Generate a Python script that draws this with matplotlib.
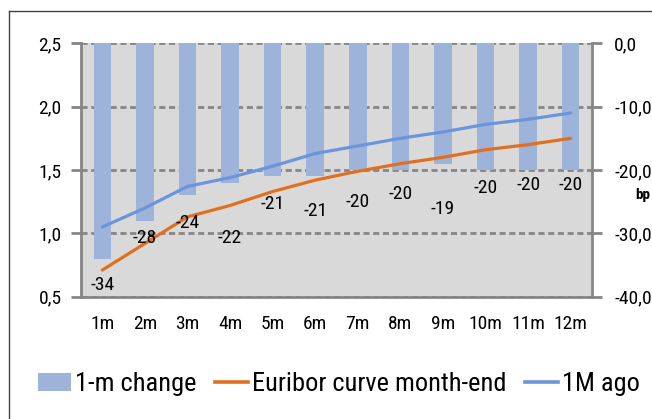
import matplotlib
matplotlib.use("Agg")
import matplotlib.pyplot as plt
from matplotlib import font_manager
from matplotlib.patches import Patch
from matplotlib.lines import Line2D

# ---- data -------------------------------------------------------------
tenors = ["1m", "2m", "3m", "4m", "5m", "6m", "7m", "8m", "9m", "10m", "11m", "12m"]
euribor_month_end = [0.71, 0.92, 1.13, 1.22, 1.33, 1.42, 1.49, 1.55, 1.60, 1.66, 1.70, 1.75]
euribor_1m_ago = [1.05, 1.20, 1.37, 1.44, 1.53, 1.63, 1.69, 1.75, 1.80, 1.86, 1.90, 1.95]
change_bp = [-34, -28, -24, -22, -21, -21, -20, -20, -19, -20, -20, -20]
# vertical placement of the value labels (bp scale)
label_y_bp = [-38.2, -30.8, -28.4, -30.8, -25.3, -26.4, -25.0, -23.8, -26.2, -22.9, -22.4, -22.3]

left_ticks = [0.5, 1.0, 1.5, 2.0, 2.5]
right_ticks = [0, -10, -20, -30, -40]

# ---- fonts ------------------------------------------------------------
available = {f.name for f in font_manager.fontManager.ttflist}
font = "Liberation Sans"
for cand in ["Liberation Sans Narrow", "DejaVu Sans Condensed", "Roboto Condensed",
             "Open Sans Condensed", "Liberation Sans"]:
    if cand in available:
        font = cand
        break
plt.rcParams["font.family"] = [font, "DejaVu Sans"]

# ---- colours ----------------------------------------------------------
bg = "#D9D9D9"
bar_c = "#9DB3DA"
orange = "#E07020"
blue = "#6A95DC"
grid_c = "#868686"

W, H = 652, 419
fig = plt.figure(figsize=(W / 100, H / 100), dpi=100)
fig.patch.set_facecolor("white")

# outer chart frame (top and left edges)
fig.add_artist(Line2D([9 / W, 1.0], [1 - 11 / H, 1 - 11 / H], color="#404040", lw=1.0,
                      transform=fig.transFigure))
fig.add_artist(Line2D([9 / W, 9 / W], [0.0, 1 - 11 / H], color="#404040", lw=1.0,
                      transform=fig.transFigure))

x0, x1 = 81 / W, 592 / W
y_top, y_bot = 1 - 43.3 / H, 1 - 296.7 / H
ax2 = fig.add_axes([x0, y_bot, x1 - x0, y_top - y_bot])
ax = ax2.twinx()
ax.set_zorder(ax2.get_zorder() + 1)
ax.patch.set_visible(False)
ax2.set_facecolor(bg)

xs = list(range(len(tenors)))

# bars on the bp scale
ax2.bar(xs, change_bp, width=0.41, color=bar_c, zorder=2)
ax2.set_ylim(-40, 0)
ax2.set_xlim(-0.5, len(tenors) - 0.5)
ax2.set_yticks(right_ticks)
ax2.set_yticklabels([f"{v:.1f}".replace(".", ",") for v in right_ticks])
ax2.yaxis.tick_right()
ax2.yaxis.set_label_position("right")
ax2.grid(axis="y", color=grid_c, lw=2.0, ls=(0, (2.2, 1.3)), zorder=1)
ax2.set_axisbelow(True)

# rate curves on the % scale (drawn on the left axis)
ax.plot(xs, euribor_month_end, color=orange, lw=2.3, solid_capstyle="round", zorder=3)
ax.plot(xs, euribor_1m_ago, color=blue, lw=2.3, solid_capstyle="round", zorder=3)
ax.set_ylim(0.5, 2.5)
ax.set_yticks(left_ticks)
ax.set_yticklabels([f"{v:.1f}".replace(".", ",") for v in left_ticks])
ax.yaxis.tick_left()

# value labels for the monthly change
for x, v, ly in zip(xs, change_bp, label_y_bp):
    ax.text(x, 0.5 + (ly + 40) / 40 * 2.0, f"{v}", ha="center", va="center",
            fontsize=14, color="black", zorder=5)

# category axis
ax2.set_xticks([i - 0.5 for i in range(len(tenors) + 1)], minor=False)
ax2.set_xticklabels([])
ax2.set_xticks(xs, minor=True)
ax2.set_xticklabels(tenors, minor=True)
ax2.tick_params(axis="x", which="major", direction="out", length=7, width=2, color=grid_c)
ax2.tick_params(axis="x", which="minor", length=0, pad=13, labelsize=14)
ax.set_xticks([])

ax2.tick_params(axis="y", direction="out", length=7, width=2, color=grid_c,
                labelsize=14, pad=9)
ax.tick_params(axis="y", direction="out", length=7, width=2, color=grid_c,
               labelsize=14, pad=7)

for a in (ax, ax2):
    for s in a.spines.values():
        s.set_visible(False)
for side in ("left", "right", "bottom"):
    ax2.spines[side].set_visible(True)
    ax2.spines[side].set_color(grid_c)
    ax2.spines[side].set_linewidth(2)
ax2.spines["top"].set_visible(False)

for lbl in ax2.get_yticklabels():
    lbl.set_horizontalalignment("left")

# axis unit
fig.text(635 / W, 1 - 195 / H, "bp", fontsize=11, fontweight="bold", ha="left",
         va="center")

# legend
handles = [Patch(facecolor=bar_c, edgecolor="none"),
           Line2D([], [], color=orange, lw=2.6),
           Line2D([], [], color=blue, lw=2.6)]
labels = ["1-m change", "Euribor curve month-end", "1M ago"]
fig.legend(handles, labels, loc="center left", bbox_to_anchor=(38 / W, 1 - 384 / H),
           ncol=3, frameon=False, fontsize=19, handlelength=1.25, handleheight=0.7,
           handletextpad=0.15, columnspacing=0.7, borderpad=0, borderaxespad=0)

fig.savefig("out.png", dpi=100)
